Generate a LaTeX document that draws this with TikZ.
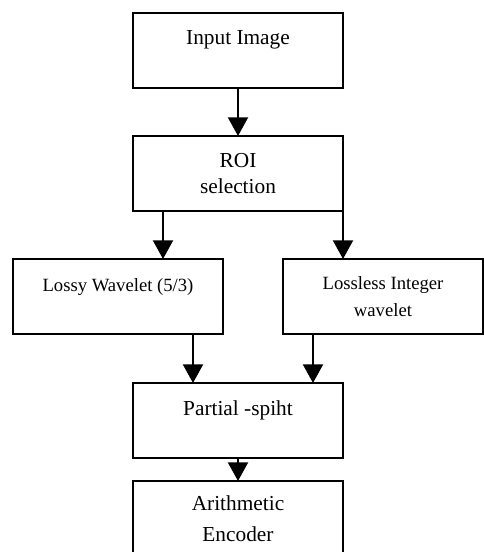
\documentclass[tikz,border=0pt]{standalone}
\usepackage{fontspec}
\setmainfont{Liberation Serif}
\usetikzlibrary{arrows.meta,positioning}

\begin{document}
\begin{tikzpicture}[
  node distance=36pt,
  box/.style={draw, line width=1.5pt, align=center, inner sep=0pt, outer sep=0pt, minimum width=157.5pt, minimum height=56.25pt, font=\fontsize{16}{19}\selectfont},
  toptext/.style={text height=24pt, text depth=32.25pt},
  line/.style={-{Triangle[length=14pt,width=15pt]}, line width=1.5pt}
]
\useasboundingbox (-178.5pt,37.875pt) rectangle (184.5pt,-376.125pt);
\node[box, toptext] (input) at (0,0) {Input Image};
\node[box, below=of input] (roi) {ROI\\[1pt]selection};
\node[box, toptext, below=of roi, xshift=-90pt, font=\fontsize{14}{17}\selectfont] (lossy) {Lossy Wavelet (5/3)};
\node[box, below=of roi, xshift=108.75pt, minimum width=150pt, font=\fontsize{14}{17}\selectfont] (lossless) {Lossless Integer\\[3pt]wavelet};
\node[box, toptext, below=36.75pt of lossy, xshift=90pt] (spiht) {Partial -spiht};
\node[box, below=17.25pt of spiht] (coder) {Arithmetic\\[4pt]Encoder};
\draw[line] (input) -- (roi);
\draw[line] ([xshift=22.5pt]roi.south west) -- ([xshift=22.5pt]roi.south west |- lossy.north);
\draw[line] (roi.south east) -- (roi.south east |- lossless.north);
\draw[line] ([xshift=-22.5pt]lossy.south east) -- ([xshift=-22.5pt]lossy.south east |- spiht.north);
\draw[line] ([xshift=22.5pt]lossless.south west) -- ([xshift=22.5pt]lossless.south west |- spiht.north);
\draw[line] (spiht) -- (coder);
\end{tikzpicture}
\end{document}
